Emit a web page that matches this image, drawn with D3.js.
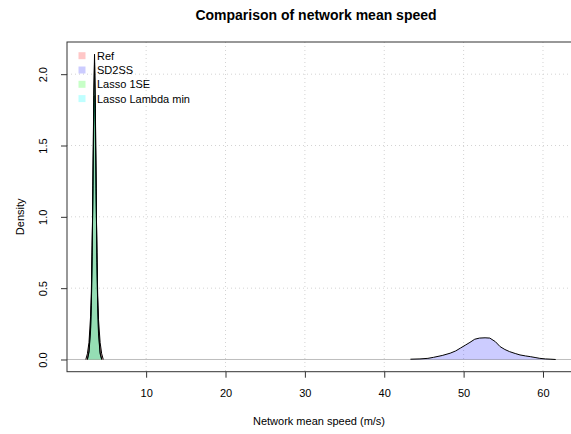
<!DOCTYPE html>
<html><head><meta charset="utf-8">
<script src="https://cdn.jsdelivr.net/npm/d3@7"></script>
<style>
html,body{margin:0;padding:0;background:#fff;}
svg{display:block;font-family:"Liberation Sans",Arial,sans-serif;}
</style></head>
<body>
<script>
// ---- data ----
const seriesNames = ["Ref", "SD2SS", "Lasso 1SE", "Lasso Lambda min"];
const seriesColors = ["rgba(255,0,0,0.22)", "rgba(0,0,255,0.2)", "rgba(0,255,0,0.22)", "rgba(0,255,255,0.25)"];

const refX = [2.40,2.60,2.80,3.00,3.10,3.20,3.30,3.40,3.50,3.60,3.70,3.80,3.90,4.00,4.20,4.40,4.60];
const refY = [0.00,0.04,0.12,0.30,0.48,0.80,1.20,1.62,1.85,1.60,1.15,0.75,0.45,0.28,0.12,0.04,0.00];

const sd2ssX = [43.3,44.5,45.5,46.2,47.3,48.3,49.0,49.6,50.2,50.8,51.4,52.0,52.7,53.3,54.0,54.6,55.2,55.8,56.5,57.1,57.8,58.4,59.0,59.6,60.3,61.0,61.6];
const sd2ssY = [0.002,0.004,0.008,0.015,0.028,0.044,0.060,0.080,0.100,0.120,0.142,0.150,0.152,0.150,0.125,0.090,0.070,0.055,0.042,0.032,0.025,0.020,0.014,0.008,0.004,0.002,0.000];

const lasso1seX = [2.60,2.80,3.00,3.10,3.20,3.30,3.40,3.50,3.60,3.70,3.80,3.90,4.00,4.20,4.40];
const lasso1seY = [0.00,0.06,0.22,0.40,0.75,1.25,1.85,2.14,1.80,1.20,0.70,0.38,0.20,0.05,0.00];

const lassoMinX = [2.60,2.80,3.00,3.10,3.20,3.30,3.40,3.50,3.60,3.70,3.80,3.90,4.00,4.20,4.40];
const lassoMinY = [0.00,0.05,0.20,0.38,0.72,1.22,1.80,2.08,1.76,1.18,0.68,0.36,0.18,0.04,0.00];

const xTicks = [10, 20, 30, 40, 50, 60];
const yTicks = [0.0, 0.5, 1.0, 1.5, 2.0];
const xDomain = [0.03, 63.97];
const yDomain = [-0.0856, 2.2256];

const titleText = "Comparison of network mean speed";
const xLabel = "Network mean speed (m/s)";
const yLabel = "Density";

// ---- layout ----
const W = 571, H = 434;
const plot = {left: 67, right: 574.5, top: 42, bottom: 371.7};

const svg = d3.select("body").append("svg").attr("width", W).attr("height", H);

const x = d3.scaleLinear().domain(xDomain).range([plot.left, plot.right]);
const y = d3.scaleLinear().domain(yDomain).range([plot.bottom, plot.top]);

// grid
const grid = svg.append("g");
grid.selectAll("line.vx").data(xTicks).join("line")
  .attr("x1", d => x(d)).attr("x2", d => x(d))
  .attr("y1", plot.top).attr("y2", plot.bottom)
  .attr("stroke", "#d3d3d3").attr("stroke-dasharray", "1,3");
grid.selectAll("line.hy").data(yTicks.filter(d => d > 0)).join("line")
  .attr("x1", plot.left).attr("x2", plot.right)
  .attr("y1", d => y(d)).attr("y2", d => y(d))
  .attr("stroke", "#d3d3d3").attr("stroke-dasharray", "1,3");

// zero line
svg.append("line").attr("x1", plot.left).attr("x2", plot.right)
  .attr("y1", y(0)).attr("y2", y(0)).attr("stroke", "#bebebe").attr("stroke-width", 1);

// densities
const series = [
  {xs: refX, ys: refY},
  {xs: sd2ssX, ys: sd2ssY},
  {xs: lasso1seX, ys: lasso1seY},
  {xs: lassoMinX, ys: lassoMinY}
];
const area = d3.area().x(d => x(d[0])).y0(y(0)).y1(d => y(d[1]));
const line = d3.line().x(d => x(d[0])).y(d => y(d[1]));
series.forEach((s, i) => {
  const pts = s.xs.map((v, j) => [v, s.ys[j]]);
  svg.append("path").attr("d", area(pts)).attr("fill", seriesColors[i]).attr("stroke", "none");
  svg.append("path").attr("d", line(pts)).attr("fill", "none").attr("stroke", "#000").attr("stroke-width", 1);
});

// box
svg.append("rect").attr("x", plot.left).attr("y", plot.top)
  .attr("width", plot.right - plot.left).attr("height", plot.bottom - plot.top)
  .attr("fill", "none").attr("stroke", "#333").attr("stroke-width", 1);

// axes
const xAxis = d3.axisBottom(x).tickValues(xTicks).tickSize(6).tickPadding(12).tickFormat(d3.format("d"));
const gx = svg.append("g").attr("transform", `translate(0,${plot.bottom})`).call(xAxis);
gx.select(".domain").remove();
gx.selectAll("line").attr("stroke", "#333");
gx.selectAll("text").attr("font-size", 11).attr("fill", "#000").attr("font-family", "Liberation Sans, Arial, sans-serif");

const yAxis = d3.axisLeft(y).tickValues(yTicks).tickSize(6).tickPadding(0).tickFormat(d3.format(".1f"));
const gy = svg.append("g").attr("transform", `translate(${plot.left},0)`).call(yAxis);
gy.select(".domain").remove();
gy.selectAll("line").attr("stroke", "#333");
gy.selectAll("text")
  .attr("font-size", 11).attr("fill", "#000").attr("font-family", "Liberation Sans, Arial, sans-serif")
  .attr("x", null).attr("dy", null)
  .attr("text-anchor", "middle")
  .attr("transform", "translate(-24,0) rotate(-90)")
  .attr("dominant-baseline", "central");

// titles
svg.append("text").attr("x", 316).attr("y", 20).attr("text-anchor", "middle")
  .attr("font-size", 14).attr("font-weight", "bold").text(titleText);
svg.append("text").attr("x", 319).attr("y", 425).attr("text-anchor", "middle")
  .attr("font-size", 11).text(xLabel);
svg.append("text").attr("transform", `translate(24,${y(1.0)}) rotate(-90)`).attr("text-anchor", "middle")
  .attr("font-size", 11).text(yLabel);

// legend
const leg = svg.append("g");
seriesNames.forEach((n, i) => {
  const cy = 55.7 + i * 14.3;
  leg.append("rect").attr("x", 78.5).attr("y", cy - 3.5).attr("width", 7).attr("height", 7)
    .attr("fill", seriesColors[i]);
  leg.append("text").attr("x", 97).attr("y", cy).attr("dominant-baseline", "central")
    .attr("font-size", 11).text(n);
});
</script>
</body></html>
